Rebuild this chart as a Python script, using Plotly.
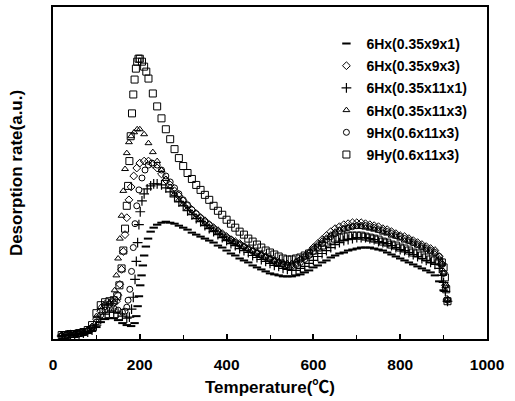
import plotly.graph_objects as go

# ---------------- data (rate in arbitrary units) ----------------
GRID_T = [240, 250, 260, 270, 280, 290, 300, 310, 320, 330, 340, 350, 360, 370, 380, 390,
          400, 410, 420, 430, 440, 450, 460, 470, 480, 490, 500, 510, 520, 530, 540, 550,
          560, 570, 580, 590, 600, 610, 620, 630, 640, 650, 660, 670, 680, 690, 700, 710,
          720, 730, 740, 750, 760, 770, 780, 790, 800, 810, 820, 830, 840, 850, 860, 870, 880]

# 6Hx(0.35x9x1)
t_9x1_head = [20, 30, 40, 50, 60, 70, 80, 90, 100, 110, 120, 130, 140, 150, 160, 170, 180,
              188, 192, 195, 198, 201, 204, 207, 210, 214, 219, 225, 232]
r_9x1_head = [3, 4, 4, 4, 5, 5, 6, 8, 12, 17, 20, 21, 21, 19, 16, 14, 13,
              16, 23, 33, 43, 54, 64, 74, 84, 93, 101, 108, 112]
r_9x1_grid = [115, 117, 118, 117, 116, 114, 112, 110, 107, 105, 103, 101, 99, 97, 94, 92,
              89, 86, 84, 81, 79, 77, 74, 72, 70, 68, 66, 65, 64, 63, 63, 63,
              64, 65, 67, 69, 72, 74, 77, 79, 82, 84, 86, 87, 89, 90, 91, 92,
              92, 92, 91, 90, 89, 87, 85, 83, 81, 79, 77, 75, 73, 71, 69, 67, 64]
t_9x1_tail = [890, 900, 908]
r_9x1_tail = [58, 49, 38]

# 6Hx(0.35x9x3)
t_9x3_head = [20, 30, 40, 50, 60, 70, 80, 90, 100, 110, 120, 130, 140, 146, 150, 154, 158,
              162, 166, 170, 175, 180, 186, 193, 200, 210, 220, 230]
r_9x3_head = [4, 4, 5, 5, 6, 7, 9, 12, 20, 28, 33, 35, 36, 38, 44, 55, 70,
              88, 105, 122, 140, 153, 164, 172, 177, 179, 179, 176]
r_9x3_grid = [172, 166, 160, 155, 149, 144, 139, 134, 130, 126, 122, 119, 115, 112, 109, 106,
              103, 100, 98, 96, 93, 91, 89, 87, 85, 83, 81, 79, 77, 76, 75, 75,
              77, 80, 83, 87, 92, 96, 100, 104, 108, 111, 113, 115, 116, 117, 117, 117,
              116, 115, 114, 113, 111, 110, 108, 106, 104, 103, 101, 99, 97, 95, 93, 91, 89]
t_9x3_tail = [890, 895, 900, 904, 908]
r_9x3_tail = [83, 76, 67, 54, 40]

# 6Hx(0.35x11x1)
t_11x1_head = [20, 30, 40, 50, 60, 70, 80, 90, 100, 110, 120, 130, 140, 150, 160, 170, 176,
               181, 185, 189, 192, 195, 198, 201, 205, 210, 217, 225, 232]
r_11x1_head = [3, 4, 4, 4, 5, 6, 7, 9, 14, 20, 25, 27, 27, 26, 23, 21, 22,
               30, 42, 60, 78, 97, 115, 128, 139, 146, 151, 154, 156]
r_11x1_grid = [156, 155, 152, 148, 143, 138, 134, 129, 125, 121, 118, 114, 111, 108, 105, 102,
               99, 96, 94, 91, 89, 87, 84, 82, 80, 78, 76, 74, 73, 71, 70, 69,
               69, 71, 73, 76, 79, 83, 86, 89, 92, 95, 97, 99, 100, 101, 102, 102,
               102, 101, 100, 98, 97, 96, 94, 92, 90, 89, 87, 85, 83, 81, 79, 77, 75]
t_11x1_tail = [890, 896, 900, 904, 909]
r_11x1_tail = [71, 64, 57, 48, 38]

# 6Hx(0.35x11x3)
t_11x3_head = [20, 30, 40, 50, 60, 70, 80, 90, 100, 110, 120, 130, 138, 142, 146, 150, 154,
               158, 162, 166, 170, 175, 180, 187, 194, 200, 210, 220, 230]
r_11x3_head = [4, 5, 5, 5, 6, 7, 9, 13, 23, 32, 36, 37, 39, 49, 64, 81, 101,
               124, 149, 171, 187, 198, 204, 208, 211, 211, 206, 197, 188]
r_11x3_grid = [179, 170, 161, 153, 146, 140, 136, 131, 127, 123, 120, 116, 113, 110, 107, 104,
               101, 99, 97, 95, 93, 91, 89, 87, 85, 83, 81, 79, 78, 77, 76, 76,
               78, 80, 83, 87, 91, 95, 99, 102, 105, 108, 110, 111, 112, 113, 113, 113,
               112, 111, 110, 109, 107, 106, 104, 103, 101, 99, 98, 96, 94, 92, 90, 88, 86]
t_11x3_tail = [890, 895, 900, 904, 908]
r_11x3_tail = [81, 75, 66, 53, 39]

# 9Hx(0.6x11x3)
t_9hx_head = [20, 30, 40, 50, 60, 70, 80, 90, 100, 110, 120, 130, 140, 150, 160, 166, 170,
              173, 177, 181, 185, 189, 193, 198, 205, 212, 220, 228]
r_9hx_head = [3, 4, 4, 5, 5, 6, 8, 11, 17, 24, 29, 31, 31, 29, 27, 28, 32,
              39, 50, 68, 92, 116, 134, 150, 162, 170, 175, 177]
r_9hx_grid = [175, 170, 164, 158, 152, 146, 140, 135, 130, 126, 122, 118, 115, 111, 108, 105,
              102, 100, 97, 95, 93, 90, 88, 86, 84, 82, 80, 78, 77, 75, 74, 73,
              75, 77, 80, 84, 88, 92, 96, 100, 103, 106, 109, 111, 112, 113, 114, 114,
              114, 113, 112, 110, 109, 108, 106, 104, 103, 101, 99, 97, 95, 93, 91, 89, 87]
t_9hx_tail = [890, 896, 900, 904, 909]
r_9hx_tail = [83, 75, 66, 54, 39]

# 9Hy(0.6x11x3)
t_9hy_head = [20, 30, 40, 50, 60, 70, 80, 90, 100, 110, 120, 130, 140, 148, 153, 158, 162,
              166, 170, 173, 176, 179, 182, 185, 188, 191, 194, 197, 200, 205, 210, 215, 220, 230]
r_9hy_head = [4, 4, 5, 5, 6, 7, 9, 14, 26, 34, 37, 38, 39, 43, 54, 71, 89,
              111, 134, 154, 179, 204, 227, 246, 261, 272, 279, 282, 282, 279, 274, 269, 262, 247]
r_9hy_grid = [234, 222, 211, 201, 191, 182, 174, 167, 161, 155, 150, 145, 140, 134, 129, 125,
              120, 116, 112, 108, 105, 101, 98, 95, 92, 89, 87, 85, 83, 81, 80, 80,
              81, 82, 84, 86, 89, 92, 94, 97, 99, 101, 102, 103, 104, 104, 104, 104,
              103, 102, 101, 100, 98, 97, 95, 94, 92, 91, 89, 87, 86, 84, 82, 80, 79]
t_9hy_tail = [890, 896, 900, 903, 906, 909]
r_9hy_tail = [78, 77, 72, 62, 50, 38]

NAMES = ["6Hx(0.35x9x1)", "6Hx(0.35x9x3)", "6Hx(0.35x11x1)",
         "6Hx(0.35x11x3)", "9Hx(0.6x11x3)", "9Hy(0.6x11x3)"]
X_TICKS = [0, 200, 400, 600, 800, 1000]

series = [
    (t_9x1_head + GRID_T + t_9x1_tail, r_9x1_head + r_9x1_grid + r_9x1_tail),
    (t_9x3_head + GRID_T + t_9x3_tail, r_9x3_head + r_9x3_grid + r_9x3_tail),
    (t_11x1_head + GRID_T + t_11x1_tail, r_11x1_head + r_11x1_grid + r_11x1_tail),
    (t_11x3_head + GRID_T + t_11x3_tail, r_11x3_head + r_11x3_grid + r_11x3_tail),
    (t_9hx_head + GRID_T + t_9hx_tail, r_9hx_head + r_9hx_grid + r_9hx_tail),
    (t_9hy_head + GRID_T + t_9hy_tail, r_9hy_head + r_9hy_grid + r_9hy_tail),
]

markers = [
    dict(symbol="line-ew", size=6, color="black", line=dict(color="black", width=2)),
    dict(symbol="diamond-open", size=6, color="black", line=dict(width=1)),
    dict(symbol="cross-thin", size=7, color="black", line=dict(color="black", width=1.2)),
    dict(symbol="triangle-up-open", size=6, color="black", line=dict(width=1)),
    dict(symbol="circle-open", size=6, color="black", line=dict(width=1)),
    dict(symbol="square-open", size=7, color="black", line=dict(width=1)),
]

FONT = "Liberation Sans, Arial, Noto Sans CJK SC, sans-serif"

fig = go.Figure()
for i, ((t, r), name, mk) in enumerate(zip(series, NAMES, markers)):
    fig.add_trace(go.Scatter(x=t, y=r, mode="markers", name=name, marker=mk,
                             legendgroup="g%d" % i))

fig.update_layout(
    width=515, height=401,
    margin=dict(l=53, r=28, t=5, b=62),
    paper_bgcolor="white", plot_bgcolor="white",
    font=dict(family=FONT, color="black", size=14, weight="bold"),
    showlegend=True,
    legend=dict(x=0.63, y=0.937, xanchor="left", yanchor="top",
                bgcolor="rgba(0,0,0,0)", borderwidth=0, tracegroupgap=1,
                font=dict(family=FONT, size=14, color="black", weight="bold"),
                itemwidth=30),
)
fig.update_xaxes(
    range=[0, 1000], tickvals=X_TICKS, ticks="inside", ticklen=5, tickwidth=1.5,
    tickcolor="black", showline=True, linecolor="black", linewidth=2, mirror=True,
    showgrid=False, zeroline=False,
    tickfont=dict(family=FONT, size=15.5, weight="bold"),
    ticklabelstandoff=10,
    minor=dict(dtick=100, ticks="inside", ticklen=4, tickcolor="black", tickwidth=1),
    title=dict(text="Temperature(<span style='font-family:Noto Sans CJK SC'>℃</span>)",
               font=dict(family=FONT, size=17, weight="bold"),
               standoff=10),
)
fig.update_yaxes(
    range=[0, 334], showticklabels=False, ticks="", showline=True, linecolor="black",
    linewidth=2, mirror=True, showgrid=False, zeroline=False,
    title=dict(text="Desorption rate(a.u.)", font=dict(family=FONT, size=17, weight="bold"),
               standoff=24),
)

fig.write_html("out.html", config={"displayModeBar": False},
               post_script="document.body.style.margin='0px';")
